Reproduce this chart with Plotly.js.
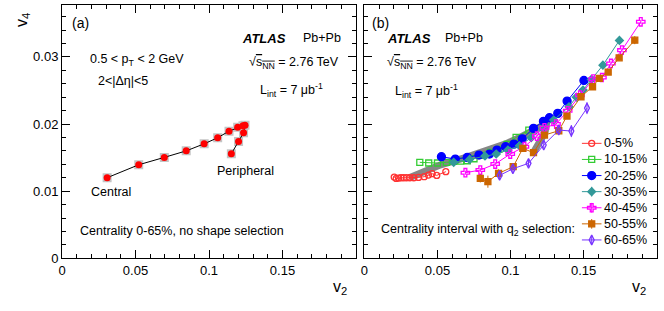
<!DOCTYPE html>
<html><head><meta charset="utf-8">
<script src="https://cdn.plot.ly/plotly-3.0.1.min.js"></script>
<style>html,body{margin:0;padding:0;background:#fff}#chart{width:664px;height:311px}</style>
</head><body><div id="chart"></div>
<script>
// ---- Panel (a): centrality dependence, 0-65% in 5% steps, no q2 selection ----
const v2_cent = [0.0307,0.0522,0.0696,0.0845,0.0967,0.1059,0.1136,0.1195,0.1231,0.1245,0.1235,0.1201,0.1152];
const v4_cent = [0.0120,0.01393,0.01503,0.0160,0.01705,0.01795,0.01894,0.0195,0.01973,0.0198,0.0187,0.01741,0.01557];

// ---- Panel (b): q2-selected points per centrality interval ----
const v2_c0_5   = [0.0204,0.0218,0.0234,0.0250,0.0268,0.0288,0.0311,0.0338,0.0370,0.0409,0.0438,0.0463,0.0495,0.0557];
const v4_c0_5   = [0.0121,0.0119,0.01195,0.0120,0.0120,0.0120,0.0120,0.0120,0.01205,0.01215,0.0124,0.0126,0.01235,0.0129];
const v2_c10_15 = [0.0379,0.0440,0.0500,0.0561,0.0611,0.0659,0.0704,0.0750,0.0807,0.0863,0.0920,0.0977,0.1038,0.1125];
const v4_c10_15 = [0.01429,0.01419,0.01419,0.01429,0.01443,0.01448,0.01453,0.01483,0.01533,0.01577,0.01622,0.01696,0.01801,0.0191];
const v2_c20_25 = [0.0527,0.0622,0.0704,0.0784,0.0856,0.0907,0.0966,0.1023,0.1080,0.1157,0.1225,0.1266,0.1323,0.1387,0.1502];
const v4_c20_25 = [0.01513,0.01478,0.01503,0.01538,0.01553,0.01612,0.01662,0.01701,0.01780,0.01935,0.0204,0.02093,0.02158,0.02341,0.02649];
const v2_c30_35 = [0.0611,0.0720,0.0825,0.0902,0.0982,0.1061,0.1141,0.1221,0.1295,0.1400,0.1450,0.1496,0.1553,0.1632,0.1745];
const v4_c30_35 = [0.01429,0.01473,0.01523,0.01553,0.01612,0.01677,0.01796,0.01935,0.02059,0.02257,0.0240,0.02505,0.02664,0.02877,0.03245];
const v2_c40_45 = [0.0691,0.0793,0.0895,0.0998,0.1095,0.1180,0.1232,0.1311,0.1391,0.1475,0.1566,0.1625,0.1687,0.1762,0.1891];
const v4_c40_45 = [0.01275,0.01314,0.01404,0.01553,0.01662,0.01820,0.01944,0.01999,0.02197,0.0243,0.02669,0.02693,0.02902,0.031,0.03522];
const v2_c50_55 = [0.0793,0.0845,0.0918,0.1018,0.1084,0.1157,0.1232,0.1330,0.1386,0.1482,0.1561,0.1607,0.1668,0.1743,0.1850];
const v4_c50_55 = [0.0119,0.01141,0.01265,0.01364,0.01637,0.01573,0.01835,0.0190,0.02118,0.02406,0.02555,0.02679,0.02773,0.02986,0.03249];
const e4_c50_55 = [0.0006,0.0009,0.0006,0.0005,0.0005,0.0005,0.0004,0.0005,0.0004,0.0004,0.0004,0.0004,0.0004,0.0004,0.0006];
const v2_c60_65 = [0.0925,0.1016,0.1123,0.1227,0.1330,0.1416,0.1523];
const v4_c60_65 = [0.01235,0.01334,0.01414,0.01687,0.0191,0.01895,0.02237];
const e4_c60_65 = [0.0006,0.0005,0.0005,0.0005,0.0005,0.0009,0.0009];

const legendLabels = ['0-5%','10-15%','20-25%','30-35%','40-45%','50-55%','60-65%'];
const xTickVals = [0, 0.05, 0.1, 0.15];
const yTickVals = [0, 0.01, 0.02, 0.03];

const FONT = 'Liberation Sans, Arial, Helvetica, sans-serif';
const W = 664, H = 311;
const px = p => p / W, py = p => 1 - p / H;

const series = [
  {x:v2_c0_5,   y:v4_c0_5,   color:'#ff3333', symbol:'circle-open',       size:6},
  {x:v2_c10_15, y:v4_c10_15, color:'#33cc33', symbol:'square-open',       size:6},
  {x:v2_c20_25, y:v4_c20_25, color:'#0000ff', symbol:'circle',            size:8},
  {x:v2_c30_35, y:v4_c30_35, color:'#339999', symbol:'diamond',           size:6, err:0.0003},
  {x:v2_c40_45, y:v4_c40_45, color:'#ff00ff', symbol:'cross-open',        size:7, err:0.0003},
  {x:v2_c50_55, y:v4_c50_55, color:'#cc6600', symbol:'square',            size:6, errArr:e4_c50_55},
  {x:v2_c60_65, y:v4_c60_65, color:'#7733ff', symbol:'diamond-tall-open', size:7, errArr:e4_c60_65}
];

const traces = [];
// Panel (a): systematic boxes, line and points
traces.push({x:v2_cent, y:v4_cent, xaxis:'x', yaxis:'y', mode:'markers', type:'scatter',
  marker:{symbol:'square', size:9, color:'#c4c4c4'}, hoverinfo:'skip'});
traces.push({x:v2_cent, y:v4_cent, xaxis:'x', yaxis:'y', mode:'lines+markers', type:'scatter',
  line:{color:'#000', width:1}, marker:{symbol:'circle', size:7, color:'#ff0000'}});
// Panel (b): gray band of the centrality dependence
traces.push({x:v2_cent, y:v4_cent, xaxis:'x2', yaxis:'y2', mode:'lines', type:'scatter',
  line:{color:'rgb(135,135,135)', width:7}, hoverinfo:'skip'});
series.forEach(s => {
  const t = {x:s.x, y:s.y, xaxis:'x2', yaxis:'y2', mode:'lines+markers', type:'scatter',
    line:{color:s.color, width:1},
    marker:{symbol:s.symbol, size:s.size, color:s.color, line:{color:s.color, width:1.3}}};
  if (s.err) t.error_y = {type:'constant', value:s.err, color:s.color, thickness:1, width:0};
  if (s.errArr) t.error_y = {type:'data', array:s.errArr, color:s.color, thickness:1, width:0};
  traces.push(t);
});
// Legend samples on a hidden helper axis
series.forEach((s, i) => {
  traces.push({x:[0,1], y:[i,i], xaxis:'x3', yaxis:'y3', mode:'lines', type:'scatter',
    line:{color:s.color, width:1}, cliponaxis:false, hoverinfo:'skip'});
  const m = {x:[0.5], y:[i], xaxis:'x3', yaxis:'y3', mode:'markers', type:'scatter', cliponaxis:false,
    marker:{symbol:s.symbol, size:s.size, color:s.color, line:{color:s.color, width:1.3}}, hoverinfo:'skip'};
  if (s.err || s.errArr) m.error_y = {type:'constant', value:0.3, color:s.color, thickness:1, width:0};
  traces.push(m);
});

const tickFont = {family:FONT, size:13, color:'#000'};
const xBase = {range:[0,0.2], tickmode:'array', tickvals:xTickVals, ticks:'inside', ticklen:8, tickwidth:1, tickcolor:'#000',
  showline:true, linecolor:'#000', linewidth:1, mirror:'allticks', showgrid:false, zeroline:false,
  tickfont:tickFont, fixedrange:true,
  minor:{tick0:0, dtick:0.01, ticks:'inside', ticklen:4, tickwidth:1, tickcolor:'#000', showgrid:false}};
const yBase = {range:[0,0.0378], tickmode:'array', tickvals:yTickVals, ticks:'inside', ticklen:8, tickwidth:1, tickcolor:'#000',
  showline:true, linecolor:'#000', linewidth:1, mirror:'allticks', showgrid:false, zeroline:false,
  tickfont:tickFont, fixedrange:true, domain:[py(258.3), py(4.5)],
  minor:{tick0:0, dtick:0.002, ticks:'inside', ticklen:4, tickwidth:1, tickcolor:'#000', showgrid:false}};

const txt = (x, y, text, size, extra) => Object.assign({xref:'paper', yref:'paper', x:px(x), y:py(y),
  xanchor:'left', yanchor:'middle', text:text, showarrow:false, borderpad:0,
  font:{family:FONT, size:size||12.5, color:'#000'}}, extra||{});

const sqrtS = '√<span style="text-decoration:overline">s<sub>NN</sub></span> = 2.76 TeV';
const lint = 'L<sub>int</sub> = 7 μb<sup>-1</sup>';

const annotations = [
  txt(71, 23, '(a)', 14),
  txt(241, 38, '<b><i>ATLAS</i></b>', 13),
  txt(302, 38, 'Pb+Pb', 12.5),
  txt(248, 63, sqrtS, 12.5),
  txt(259, 90, lint, 12.5),
  txt(89, 60, '0.5 &lt; p<sub>T</sub> &lt; 2 GeV', 12.5),
  txt(97, 81, '2&lt;|Δη|&lt;5', 12.5),
  txt(90, 192, 'Central', 12.5),
  txt(216, 171, 'Peripheral', 12.5),
  txt(79, 231, 'Centrality 0-65%, no shape selection', 12.5),
  txt(371, 23, '(b)', 14),
  txt(386, 38, '<b><i>ATLAS</i></b>', 13),
  txt(444, 38, 'Pb+Pb', 12.5),
  txt(386, 63, sqrtS, 12.5),
  txt(394, 91, lint, 12.5),
  txt(380, 230, 'Centrality interval with q<sub>2</sub> selection:', 12.5),
  txt(332, 287, 'v<sub>2</sub>', 16),
  txt(631, 287, 'v<sub>2</sub>', 16),
  {xref:'paper', yref:'paper', x:px(22), y:py(20), xanchor:'center', yanchor:'middle', textangle:-90,
   text:'v<sub>4</sub>', showarrow:false, font:{family:FONT, size:16, color:'#000'}}
];
legendLabels.forEach((lab, i) => annotations.push({xref:'paper', yref:'y3', x:px(602.5), y:i,
  xanchor:'left', yanchor:'middle', text:lab, showarrow:false, borderpad:0,
  font:{family:FONT, size:12.5, color:'#000'}}));

const layout = {
  width:W, height:H, margin:{l:0, r:0, t:0, b:0, pad:0},
  paper_bgcolor:'#fff', plot_bgcolor:'#fff', showlegend:false,
  xaxis: Object.assign({}, xBase, {domain:[px(62), px(356)], anchor:'y'}),
  yaxis: Object.assign({}, yBase, {anchor:'x'}),
  xaxis2: Object.assign({}, xBase, {domain:[px(364.4), px(656.7)], anchor:'y2'}),
  yaxis2: Object.assign({}, yBase, {anchor:'x2', showticklabels:false}),
  xaxis3: {domain:[px(581.7), px(601.7)], range:[0,1], visible:false, anchor:'y3', fixedrange:true},
  yaxis3: {domain:[py(248), py(135.3)], range:[6.5,-0.5], visible:false, anchor:'x3', fixedrange:true},
  annotations: annotations
};

Plotly.newPlot('chart', traces, layout, {staticPlot:true, displayModeBar:false});
</script></body></html>
